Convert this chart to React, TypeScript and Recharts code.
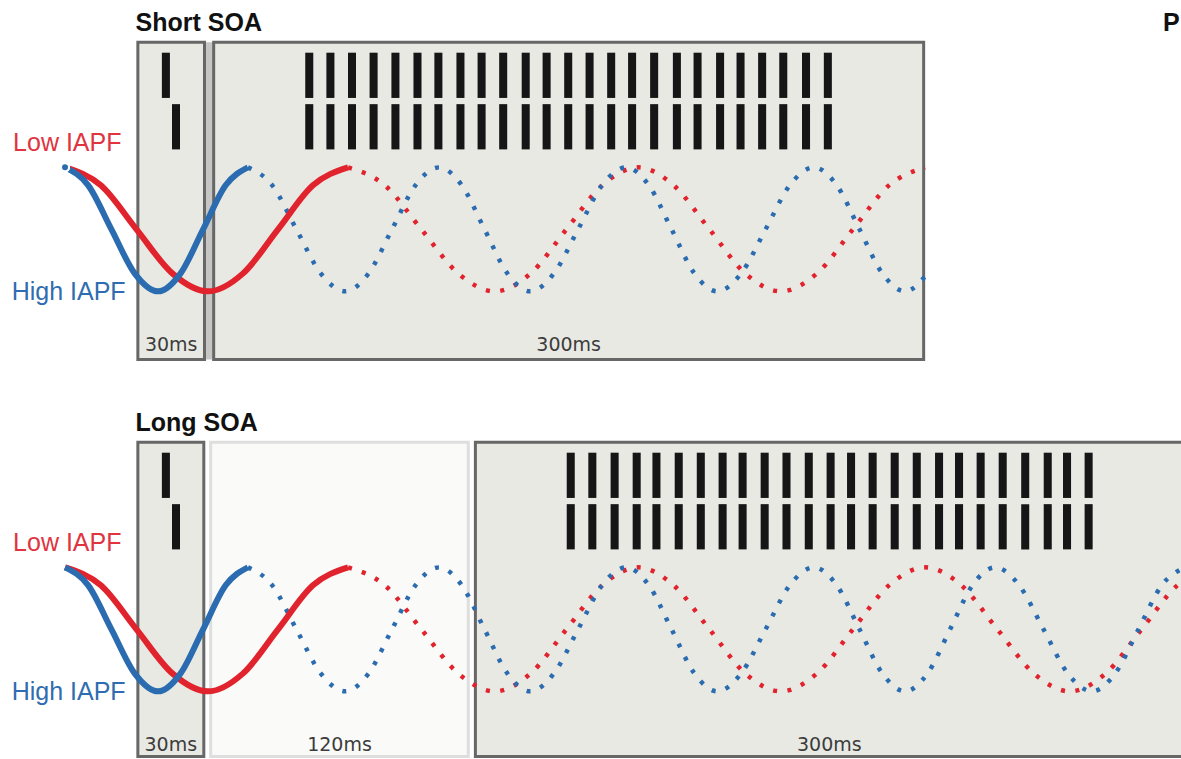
import React from 'react';
import { ComposedChart, Line, XAxis, YAxis, ReferenceArea, ReferenceDot } from 'recharts';

// time in ms (0 = onset of the 30 ms window), amplitude: 1 = peak, -1 = trough
const TIME_DOMAIN: [number, number] = [-60, 454];
const AMP_DOMAIN: [number, number] = [-2.43, 3.7];

// High IAPF wave (~12 Hz)
const HIGH_IAPF_T = [
  -31.7, -21.6, -11.5, -1.4, 8.8, 18.6, 28.4, 38.2, 47.9, 58.5, 69.0, 79.6, 90.2,
  100.4, 110.6, 120.8, 131.1, 141.0, 150.9, 160.8, 170.7, 181.1, 191.6, 202.0, 212.5,
  222.4, 232.3, 242.2, 252.1, 262.6, 273.2, 283.7, 294.3, 304.2, 314.1, 324.0, 333.9,
  343.7, 353.5, 363.2, 373.0, 383.6, 394.2, 404.7, 415.3, 425.4, 435.5, 445.6, 455.7,
];
const HIGH_IAPF_V = [
  1, 0.71, 0, -0.71, -1, -0.71, 0, 0.71, 1, 0.71, 0, -0.71, -1,
  -0.71, 0, 0.71, 1, 0.71, 0, -0.71, -1, -0.71, 0, 0.71, 1,
  0.71, 0, -0.71, -1, -0.71, 0, 0.71, 1, 0.71, 0, -0.71, -1,
  -0.71, 0, 0.71, 1, 0.71, 0, -0.71, -1, -0.71, 0, 0.71, 1,
];

// Low IAPF wave (~8 Hz)
const LOW_IAPF_T = [
  -31.7, -16.1, -0.6, 15.0, 30.5, 45.8, 61.0, 76.2, 91.5, 107.5, 123.4, 139.4, 155.4,
  171.0, 186.5, 202.1, 217.7, 233.2, 248.8, 264.3, 279.9, 295.6, 311.2, 326.9, 342.6,
  358.4, 374.1, 389.9, 405.7, 421.3, 436.8, 452.4, 467.9,
];
const LOW_IAPF_V = [
  1, 0.71, 0, -0.71, -1, -0.71, 0, 0.71, 1, 0.71, 0, -0.71, -1,
  -0.71, 0, 0.71, 1, 0.71, 0, -0.71, -1, -0.71, 0, 0.71, 1,
  0.71, 0, -0.71, -1, -0.71, 0, 0.71, 1,
];

// solid part = first cycle, then dotted
const HIGH_SOLID_END = 47.9;
const LOW_SOLID_END = 91.5;
const SHORT_SOA_END = 343.7;

// bar centres (ms)
const CUE_UPPER = [12.2];
const CUE_LOWER = [16.6];
const SHORT_TRAIN = [
  74.6, 83.8, 93.2, 102.6, 112.1, 121.7, 130.8, 140.4, 149.6, 159.0, 168.8, 177.9, 187.3,
  196.6, 206.0, 215.1, 224.7, 234.6, 243.6, 253.4, 262.3, 271.7, 280.9, 290.8, 300.3,
];
const LONG_TRAIN = [
  188.4, 197.8, 207.5, 217.1, 225.7, 235.4, 245.0, 254.5, 263.2, 272.8, 282.3, 292.0, 301.5,
  310.4, 319.8, 329.4, 339.0, 348.7, 357.4, 366.8, 376.4, 386.2, 396.0, 404.4, 413.8,
];

// intervals (ms)
const SHORT_BLOCKS = [
  { label: '30ms', start: 0, end: 29, blank: false },
  { label: '300ms', start: 33, end: 342, blank: false },
];
const SHORT_GAP = [29, 33];
const LONG_BLOCKS = [
  { label: '30ms', start: 0, end: 28.7, blank: false },
  { label: '120ms', start: 31.7, end: 143.8, blank: true },
  { label: '300ms', start: 146.9, end: 455, blank: false },
];

const RED = '#e0232d';
const BLUE = '#2a6caf';
const BAR_HALF = 1.75;

const toPoints = (ts: number[], vs: number[], from: number, to: number) =>
  ts.map((t, i) => ({ t, v: vs[i] })).filter((p) => p.t >= from && p.t <= to);

interface PanelProps {
  title: string;
  blocks: { label: string; start: number; end: number; blank: boolean }[];
  gap?: number[];
  train: number[];
  end: number;
  boxBottom: number;
  labelOffset: number;
  showP?: boolean;
}

const Panel = ({ title, blocks, gap, train, end, boxBottom, labelOffset, showP }: PanelProps) => {
  const highSolid = toPoints(HIGH_IAPF_T, HIGH_IAPF_V, -100, HIGH_SOLID_END);
  const highDot = toPoints(HIGH_IAPF_T, HIGH_IAPF_V, HIGH_SOLID_END, end);
  const lowSolid = toPoints(LOW_IAPF_T, LOW_IAPF_V, -100, LOW_SOLID_END);
  const lowDot = toPoints(LOW_IAPF_T, LOW_IAPF_V, LOW_SOLID_END, end);

  const bar = (c: number, y1: number, y2: number, key: string) => (
    <ReferenceArea
      key={key}
      x1={c - BAR_HALF}
      x2={c + BAR_HALF}
      y1={y1}
      y2={y2}
      fill="#161616"
      fillOpacity={1}
      stroke="none"
      ifOverflow="visible"
    />
  );

  return (
    <ComposedChart width={1181} height={380} margin={{ top: 0, right: 0, bottom: 0, left: 0 }}>
      <XAxis type="number" dataKey="t" domain={TIME_DOMAIN} allowDataOverflow hide />
      <YAxis type="number" dataKey="v" domain={AMP_DOMAIN} allowDataOverflow hide />

      {gap && (
        <ReferenceArea
          x1={gap[0]}
          x2={gap[1]}
          y1={boxBottom}
          y2={3.02}
          fill="#c6c6c4"
          fillOpacity={1}
          stroke="none"
          ifOverflow="visible"
        />
      )}
      {blocks.map((b) => (
        <ReferenceArea
          key={b.label + b.start}
          x1={b.start}
          x2={b.end}
          y1={boxBottom}
          y2={3.02}
          fill={b.blank ? '#fafaf8' : '#e9e9e4'}
          fillOpacity={1}
          stroke={b.blank ? '#dedede' : '#676767'}
          strokeWidth={3}
          ifOverflow="visible"
          label={{
            value: b.label,
            position: 'insideBottom',
            offset: labelOffset,
            fill: '#3c3c3c',
            fontSize: 19,
            fontFamily: 'DejaVu Sans',
          }}
        />
      ))}

      {CUE_UPPER.map((c) => bar(c, 2.12, 2.85, 'cu' + c))}
      {CUE_LOWER.map((c) => bar(c, 1.29, 2.02, 'cl' + c))}
      {train.map((c) => bar(c, 2.12, 2.85, 'tu' + c))}
      {train.map((c) => bar(c, 1.29, 2.02, 'tl' + c))}

      <Line data={lowDot} dataKey="v" type="monotone" stroke={RED} strokeWidth={4.5} strokeDasharray="4 10.5" dot={false} isAnimationActive={false} />
      <Line data={highDot} dataKey="v" type="monotone" stroke={BLUE} strokeWidth={4.5} strokeDasharray="4 10.5" dot={false} isAnimationActive={false} />
      <Line data={lowSolid} dataKey="v" type="monotone" stroke={RED} strokeWidth={6} dot={false} isAnimationActive={false} />
      <Line data={highSolid} dataKey="v" type="monotone" stroke={BLUE} strokeWidth={6} dot={false} isAnimationActive={false} />

      <ReferenceDot
        x={-1}
        y={3.35}
        r={0}
        fill="none"
        stroke="none"
        label={{ value: title, position: 'right', offset: 0, fill: '#111', fontSize: 25, fontWeight: 'bold' }}
      />
      <ReferenceDot
        x={-54.3}
        y={1.41}
        r={0}
        fill="none"
        stroke="none"
        label={{ value: 'Low IAPF', position: 'right', offset: 0, fill: '#e0343f', fontSize: 25 }}
      />
      <ReferenceDot
        x={-54.9}
        y={-0.99}
        r={0}
        fill="none"
        stroke="none"
        label={{ value: 'High IAPF', position: 'right', offset: 0, fill: '#2f6db0', fontSize: 25 }}
      />
      {showP && (
        <ReferenceDot
          x={446.2}
          y={3.35}
          r={0}
          fill="none"
          stroke="none"
          label={{ value: 'P', position: 'right', offset: 0, fill: '#111', fontSize: 25, fontWeight: 'bold' }}
        />
      )}
    </ComposedChart>
  );
};

export default function App() {
  return (
    <div
      style={{
        position: 'fixed',
        left: 0,
        top: 0,
        width: 1181,
        height: 759,
        overflow: 'hidden',
        background: '#fff',
        fontFamily: '"Liberation Sans", Arial, sans-serif',
      }}
    >
      <div style={{ position: 'absolute', left: 0, top: 0 }}>
        <Panel
          title="Short SOA"
          blocks={SHORT_BLOCKS}
          gap={SHORT_GAP}
          train={SHORT_TRAIN}
          end={SHORT_SOA_END}
          boxBottom={-2.1}
          labelOffset={9}
          showP
        />
      </div>
      <div style={{ position: 'absolute', left: 0, top: 400 }}>
        <Panel
          title="Long SOA"
          blocks={LONG_BLOCKS}
          train={LONG_TRAIN}
          end={1000}
          boxBottom={-2.05}
          labelOffset={5.5}
        />
      </div>
    </div>
  );
}
